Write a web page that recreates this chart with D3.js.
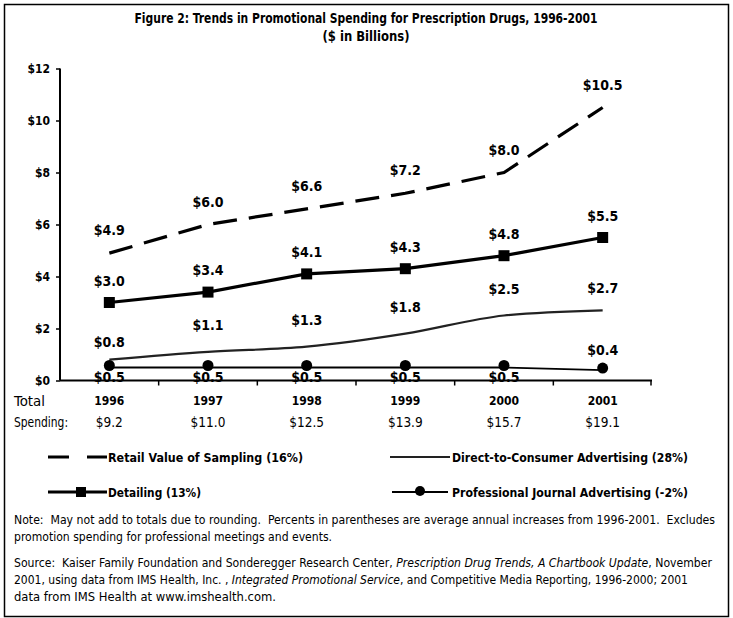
<!DOCTYPE html>
<html>
<head>
<meta charset="utf-8">
<script src="https://cdn.jsdelivr.net/npm/d3@7"></script>
<style>
  body { margin: 0; background: #fff; }
  text { fill: #000; }
</style>
</head>
<body>
<script>
/* Chart data. */
const years = ['1996', '1997', '1998', '1999', '2000', '2001'];
const totals = ['$9.2', '$11.0', '$12.5', '$13.9', '$15.7', '$19.1'];
const sampling = [4.9, 6.0, 6.6, 7.2, 8.0, 10.5];
const detailing = [3.0, 3.4, 4.1, 4.3, 4.8, 5.5];
const dtc = [0.8, 1.1, 1.3, 1.8, 2.5, 2.7];
const journal = [0.5, 0.5, 0.5, 0.5, 0.5, 0.4];
const yTicks = [0, 2, 4, 6, 8, 10, 12];

const W = 733, H = 618;
const plot = {left: 60, right: 652, top: 68.5, bottom: 380.5};
const FONT = '"DejaVu Sans", Verdana, sans-serif';

const svg = d3.select('body').append('svg')
    .attr('width', W)
    .attr('height', H)
    .style('font-family', FONT)
    .style('font-stretch', 'condensed');

// Frame round the whole figure.
svg.append('rect')
    .attr('x', 4.5).attr('y', 4.5)
    .attr('width', 724).attr('height', 612)
    .attr('fill', 'none').attr('stroke', '#000').attr('stroke-width', 1.5);

// Squeeze a text to the width it has in the picture (the original face is narrower).
function squeeze(sel, width) {
    return sel.attr('textLength', width).attr('lengthAdjust', 'spacingAndGlyphs');
}

// Title.
squeeze(svg.append('text').attr('x', 366).attr('y', 23).attr('text-anchor', 'middle')
    .attr('font-size', 14).attr('font-weight', 'bold')
    .text('Figure 2: Trends in Promotional Spending for Prescription Drugs, 1996-2001'), 463);
squeeze(svg.append('text').attr('x', 366).attr('y', 41).attr('text-anchor', 'middle')
    .attr('font-size', 14).attr('font-weight', 'bold')
    .text('($ in Billions)'), 87);

// Scales.
const x = d3.scaleBand().domain(years).range([plot.left, plot.right]);
const cx = d => x(d) + x.bandwidth() / 2;
const y = d3.scaleLinear().domain([0, 12]).range([plot.bottom, plot.top]);

// Y axis.
const yAxis = svg.append('g')
    .attr('transform', 'translate(' + plot.left + ',0)')
    .call(d3.axisLeft(y).tickValues(yTicks).tickSize(4).tickPadding(6)
        .tickFormat(d => '$' + d));
yAxis.select('.domain').attr('stroke-width', 2).attr('d', 'M0,' + plot.top + 'V' + plot.bottom);
yAxis.selectAll('.tick line').attr('stroke-width', 1.5);
yAxis.selectAll('text').attr('font-size', 12).attr('font-weight', 'bold').attr('font-family', FONT);

// X axis: ticks at the category boundaries.
const bounds = years.slice(1).map(d => x(d));
svg.append('line')
    .attr('x1', plot.left).attr('x2', plot.right)
    .attr('y1', plot.bottom).attr('y2', plot.bottom)
    .attr('stroke', '#000').attr('stroke-width', 2);
svg.selectAll('.xtick').data(bounds.concat([plot.right - 1])).enter().append('line')
    .attr('x1', d => d).attr('x2', d => d)
    .attr('y1', plot.bottom).attr('y2', plot.bottom + 5)
    .attr('stroke', '#000').attr('stroke-width', 1.5);

// Year labels and totals.
svg.selectAll('.year').data(years).enter().append('text')
    .attr('x', d => cx(d)).attr('y', 405).attr('text-anchor', 'middle')
    .attr('font-size', 12).attr('font-weight', 'bold').text(d => d);
svg.selectAll('.total').data(years).enter().append('text')
    .attr('x', d => cx(d)).attr('y', 427).attr('text-anchor', 'middle')
    .attr('font-size', 13.5).text((d, i) => totals[i]);
squeeze(svg.append('text').attr('x', 14).attr('y', 406).attr('font-size', 14).text('Total'), 31);
squeeze(svg.append('text').attr('x', 14).attr('y', 427).attr('font-size', 14).text('Spending:'), 54);

// Lines.
const line = d3.line().x((d, i) => cx(years[i])).y(d => y(d));
const smooth = d3.line().x((d, i) => cx(years[i])).y(d => y(d)).curve(d3.curveMonotoneX);

svg.append('path').attr('d', line(journal))
    .attr('fill', 'none').attr('stroke', '#000').attr('stroke-width', 1.8);
svg.append('path').attr('d', smooth(dtc))
    .attr('fill', 'none').attr('stroke', '#222').attr('stroke-width', 2.2);
svg.append('path').attr('d', line(detailing))
    .attr('fill', 'none').attr('stroke', '#000').attr('stroke-width', 3.2);
svg.append('path').attr('d', line(sampling))
    .attr('fill', 'none').attr('stroke', '#000').attr('stroke-width', 3.2)
    .attr('stroke-dasharray', '24,12');

// Markers.
svg.selectAll('.sq').data(detailing).enter().append('rect')
    .attr('x', (d, i) => cx(years[i]) - 5.5).attr('y', d => y(d) - 5.5)
    .attr('width', 11).attr('height', 11).attr('fill', '#000');
svg.selectAll('.dot').data(journal).enter().append('circle')
    .attr('cx', (d, i) => cx(years[i])).attr('cy', d => y(d) - 2)
    .attr('r', 5.5).attr('fill', '#000');

// Value labels.
function labels(values, dy) {
    svg.selectAll(null).data(values).enter().append('text')
        .attr('x', (d, i) => cx(years[i]))
        .attr('y', (d, i) => y(d) + (typeof dy === 'function' ? dy(i) : dy))
        .attr('text-anchor', 'middle')
        .attr('font-size', 14).attr('font-weight', 'bold')
        .text(d => '$' + d.toFixed(1));
}
labels(sampling, -18);
labels(detailing, -17);
labels(dtc, i => i === 0 ? -13 : i === 5 ? -17 : -22);
labels(journal, i => i === 5 ? -15 : 14);

// Legend.
function legendText(xp, yp, str, width) {
    squeeze(svg.append('text').attr('x', xp).attr('y', yp + 4.5)
        .attr('font-size', 12.5).attr('font-weight', 'bold').text(str), width);
}
const row1 = 457, row2 = 492;
svg.append('line').attr('x1', 48).attr('x2', 107).attr('y1', row1).attr('y2', row1)
    .attr('stroke', '#000').attr('stroke-width', 3.2).attr('stroke-dasharray', '21,18');
legendText(108, row1, 'Retail Value of Sampling (16%)', 195);
svg.append('line').attr('x1', 390).attr('x2', 450).attr('y1', row1).attr('y2', row1)
    .attr('stroke', '#222').attr('stroke-width', 2);
legendText(452, row1, 'Direct-to-Consumer Advertising (28%)', 236);

svg.append('line').attr('x1', 48).attr('x2', 107).attr('y1', row2).attr('y2', row2)
    .attr('stroke', '#000').attr('stroke-width', 3.2);
svg.append('rect').attr('x', 76).attr('y', 487).attr('width', 10).attr('height', 10).attr('fill', '#000');
legendText(108, row2, 'Detailing (13%)', 93);
svg.append('line').attr('x1', 392).attr('x2', 448).attr('y1', row2).attr('y2', row2)
    .attr('stroke', '#000').attr('stroke-width', 1.8);
svg.append('circle').attr('cx', 420).attr('cy', row2 - 1).attr('r', 5).attr('fill', '#000');
legendText(452, row2, 'Professional Journal Advertising (-2%)', 236);

// Note and source.
function para(yp, parts, width) {
    const t = svg.append('text').attr('x', 14).attr('y', yp).attr('font-size', 11.5)
        .attr('xml:space', 'preserve').style('white-space', 'pre');
    for (const p of parts) {
        const s = t.append('tspan').text(p[0]);
        if (p[1]) s.attr('font-style', 'italic');
    }
    squeeze(t, width);
}
para(524, [['Note:  May not add to totals due to rounding.  Percents in parentheses are average annual increases from 1996-2001.  Excludes']], 701);
para(541, [['promotion spending for professional meetings and events.']], 318);
para(567, [['Source:  Kaiser Family Foundation and Sonderegger Research Center, '],
    ['Prescription Drug Trends, A Chartbook Update', true], [', November']], 698);
para(584, [['2001, using data from IMS Health, Inc. , '], ['Integrated Promotional Service', true],
    [', and Competitive Media Reporting, 1996-2000; 2001']], 674);
para(601, [['data from IMS Health at www.imshealth.com.']], 262);
</script>
</body>
</html>
